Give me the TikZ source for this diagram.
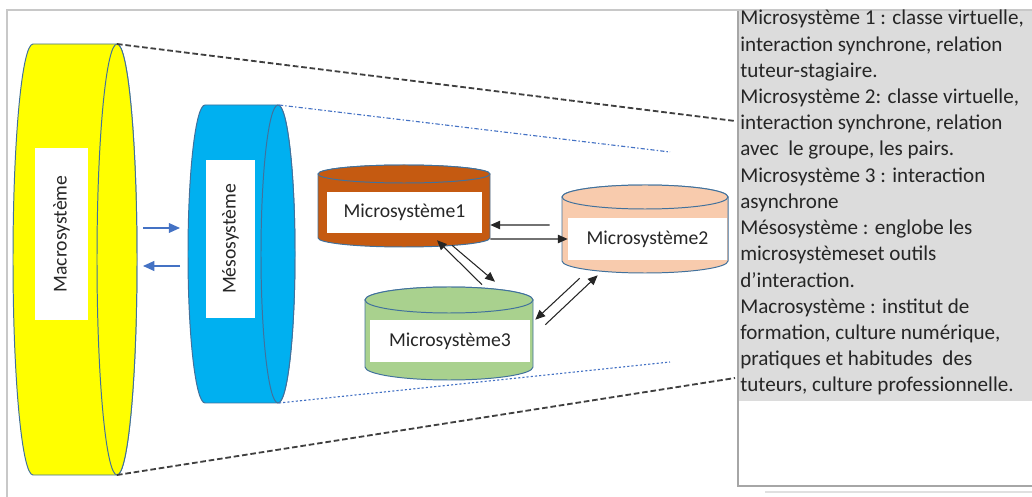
\documentclass[tikz,border=0pt]{standalone}
\usepackage{fontspec}
\setmainfont{Carlito}
\usetikzlibrary{arrows.meta,calc}

\definecolor{macrocol}{HTML}{FFFF00}
\definecolor{mesocol}{HTML}{00B0F0}
\definecolor{microA}{HTML}{C55A11}
\definecolor{microB}{HTML}{F8CBAD}
\definecolor{microC}{HTML}{A9D18E}
\definecolor{edgeblue}{HTML}{41719C}
\definecolor{arrowblue}{HTML}{4472C4}
\definecolor{framegray}{HTML}{C8C8C8}
\definecolor{legendgray}{HTML}{DCDCDC}
\definecolor{textgray}{HTML}{262626}

\begin{document}
\begin{tikzpicture}[x=0.025cm, y=-0.025cm,
    cylline/.style={draw=edgeblue, line width=0.7pt},
    whitebox/.style={fill=white, inner sep=0pt, text=textgray, font=\fontsize{14}{16}\selectfont},
    arr/.style={draw=black!85, line width=0.75pt, -{Triangle[length=7pt,width=6pt]}},
    bluearr/.style={draw=arrowblue, line width=0.9pt, -{Triangle[length=8pt,width=7pt]}},
    cone/.style={draw=black!75, line width=1.3pt, dash pattern=on 4pt off 2pt}]

    \useasboundingbox (0,0) rectangle (1032,497);

    % frame and legend box
    \draw[framegray, line width=1pt] (7,497) -- (7,10) -- (1032,10);
    \fill[legendgray] (738,11) rectangle (1032,401);
    \draw[black!35, line width=0.8pt] (738,11) -- (738,486) -- (1032,486);
    \draw[black!12, line width=2pt] (765,492) -- (1032,492);

    % big cylinders, lying on their side
    \foreach \lx/\fx/\rx/\cy/\ry/\col in {33/117/20/259.5/215.5/macrocol, 205/278/17/254/149/mesocol}{
      \draw[cylline, fill=\col] (\lx,\cy-\ry) -- (\fx,\cy-\ry)
        arc[start angle=-90, end angle=90, x radius=\rx, y radius=\ry]
        -- (\lx,\cy+\ry)
        arc[start angle=90, end angle=270, x radius=\rx, y radius=\ry] -- cycle;
      \draw[cylline, fill=\col] (\fx,\cy) ellipse[x radius=\rx, y radius=\ry];
    }

    % small cylinders, standing
    \foreach \cx/\ty/\rx/\ry/\by/\col in {404/174/86/9/238/microA, 645/197/83/12/261/microB, 449/300/84/13/367/microC}{
      \draw[cylline, fill=\col] (\cx-\rx,\ty) -- (\cx-\rx,\by)
        arc[start angle=180, end angle=0, x radius=\rx, y radius=\ry]
        -- (\cx+\rx,\ty)
        arc[start angle=0, end angle=-180, x radius=\rx, y radius=\ry] -- cycle;
      \draw[cylline, fill=\col] (\cx,\ty) ellipse[x radius=\rx, y radius=\ry];
    }

    \coordinate (ytop) at (117,44);
    \coordinate (ybot) at (117,475);
    \coordinate (btop) at (279,105);
    \coordinate (bbot) at (279,403);
    \coordinate (conetop) at (735,121);
    \coordinate (conebot) at (735,378);
    \coordinate (innertop) at (670,152);
    \coordinate (innerbot) at (670,362);

    \draw[cone] (ytop) -- (conetop);
    \draw[cone] (ybot) -- (conebot);
    \draw[arrowblue, line width=0.8pt, dash pattern=on 3pt off 1.5pt on 1pt off 1.5pt] (btop) -- (innertop);
    \draw[arrowblue, line width=0.8pt, dash pattern=on 1.5pt off 1.5pt] (bbot) -- (innerbot);

    % labels
    \node[whitebox, rotate=90, minimum width=4.3cm, minimum height=1.325cm] (macro) at (61.5,234) {Macrosystème};
    \node[whitebox, rotate=90, minimum width=3.95cm, minimum height=1.225cm] (meso) at (230.5,239) {Mésosystème};
    \node[whitebox, minimum width=3.875cm, minimum height=1.025cm] (m1) at (404.5,212.5) {Microsystème1};
    \node[whitebox, minimum width=3.975cm, minimum height=1.05cm] (m2) at (647.5,239) {Microsystème2};
    \node[whitebox, minimum width=4cm, minimum height=1.05cm] (m3) at (450,341) {Microsystème3};

    % arrows
    \draw[bluearr] ($(macro.center)+(81.5,-6)$) -- ($(meso.center)+(-50.5,-11)$);
    \draw[bluearr] ($(meso.center)+(-50.5,27)$) -- ($(macro.center)+(81.5,32)$);

    \draw[arr] ($(m2.west)+(-18,-14)$) -- ($(m1.east)+(8,12.5)$);
    \draw[arr] ($(m1.east)+(8,26.5)$) -- (m2.west);
    \draw[arr] ($(m3.north)+(32,-35)$) -- ($(m1.south)+(32.5,7)$);
    \draw[arr] ($(m1.south)+(47.5,12)$) -- ($(m3.north)+(45,-38)$);
    \draw[arr] ($(m2.south west)+(12,18)$) -- ($(m3.north east)+(5,0)$);
    \draw[arr] ($(m3.north east)+(15,5)$) -- ($(m2.south west)+(30,15)$);

    % legend
    \node[anchor=north west, inner sep=0pt, align=left, text=textgray,
          font=\fontsize{15}{18.64}\selectfont] (legend) at (740,10)
      {Microsystème 1 : classe virtuelle,\\
       interaction synchrone, relation\\
       tuteur-stagiaire.\\
       Microsystème 2: classe virtuelle,\\
       interaction synchrone, relation\\
       avec\ \ le groupe, les pairs.\\
       Microsystème 3 : interaction\\
       asynchrone\\
       Mésosystème : englobe les\\
       microsystèmeset outils\\
       d’interaction.\\
       Macrosystème : institut de\\
       formation, culture numérique,\\
       pratiques et habitudes\ \ des\\
       tuteurs, culture professionnelle.};

\end{tikzpicture}
\end{document}
